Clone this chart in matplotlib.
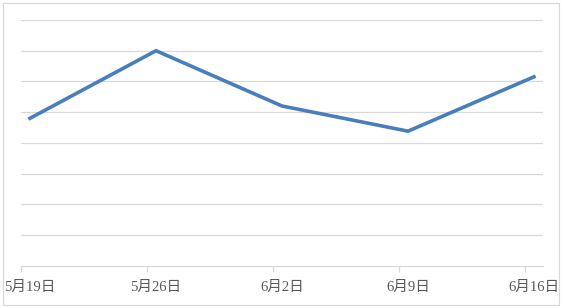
import matplotlib.pyplot as plt
from matplotlib.patches import Rectangle

dates = ["5月19日", "5月26日", "6月2日", "6月9日", "6月16日"]
day_offsets = [0, 7, 14, 21, 28]
values = [4.8, 7.0, 5.2, 4.38, 6.15]

LINE_COLOR = "#4a7ebb"
GRID_COLOR = "#d9d9d9"
TEXT_COLOR = "#595959"

fig = plt.figure(figsize=(5.64, 3.08), dpi=100)
ax = fig.add_axes([21 / 564, (308 - 265.7) / 308, (543 - 21) / 564, (265.7 - 20) / 308])

# points sit half a day to the right of the date ticks
xs = [d + 0.5 for d in day_offsets]
ax.plot(xs, values, color=LINE_COLOR, linewidth=2.6, solid_joinstyle="miter")

ax.set_xlim(0, 29)
ax.set_ylim(0, 8)
ax.set_yticks(range(1, 9))
ax.yaxis.grid(True, color=GRID_COLOR, linewidth=0.9)
ax.set_axisbelow(True)
ax.tick_params(axis="y", left=False, labelleft=False)

ax.set_xticks(day_offsets)
ax.set_xticklabels([])
ax.tick_params(axis="x", which="major", length=4, color=GRID_COLOR, width=0.9)
ax.set_xticks(xs, minor=True)
ax.set_xticklabels(dates, minor=True, family=["Liberation Serif", "Noto Sans CJK SC"],
                   fontsize=10.5, color=TEXT_COLOR)
ax.tick_params(axis="x", which="minor", length=0, pad=11)

for side in ["top", "right", "left"]:
    ax.spines[side].set_visible(False)
ax.spines["bottom"].set_color(GRID_COLOR)
ax.spines["bottom"].set_linewidth(0.9)

# light border round the whole chart
fig.patches.append(Rectangle((3 / 564, 3 / 308), 556 / 564, 302 / 308, transform=fig.transFigure,
                             fill=False, edgecolor=GRID_COLOR, linewidth=0.9))

fig.savefig("out.png", dpi=100)
